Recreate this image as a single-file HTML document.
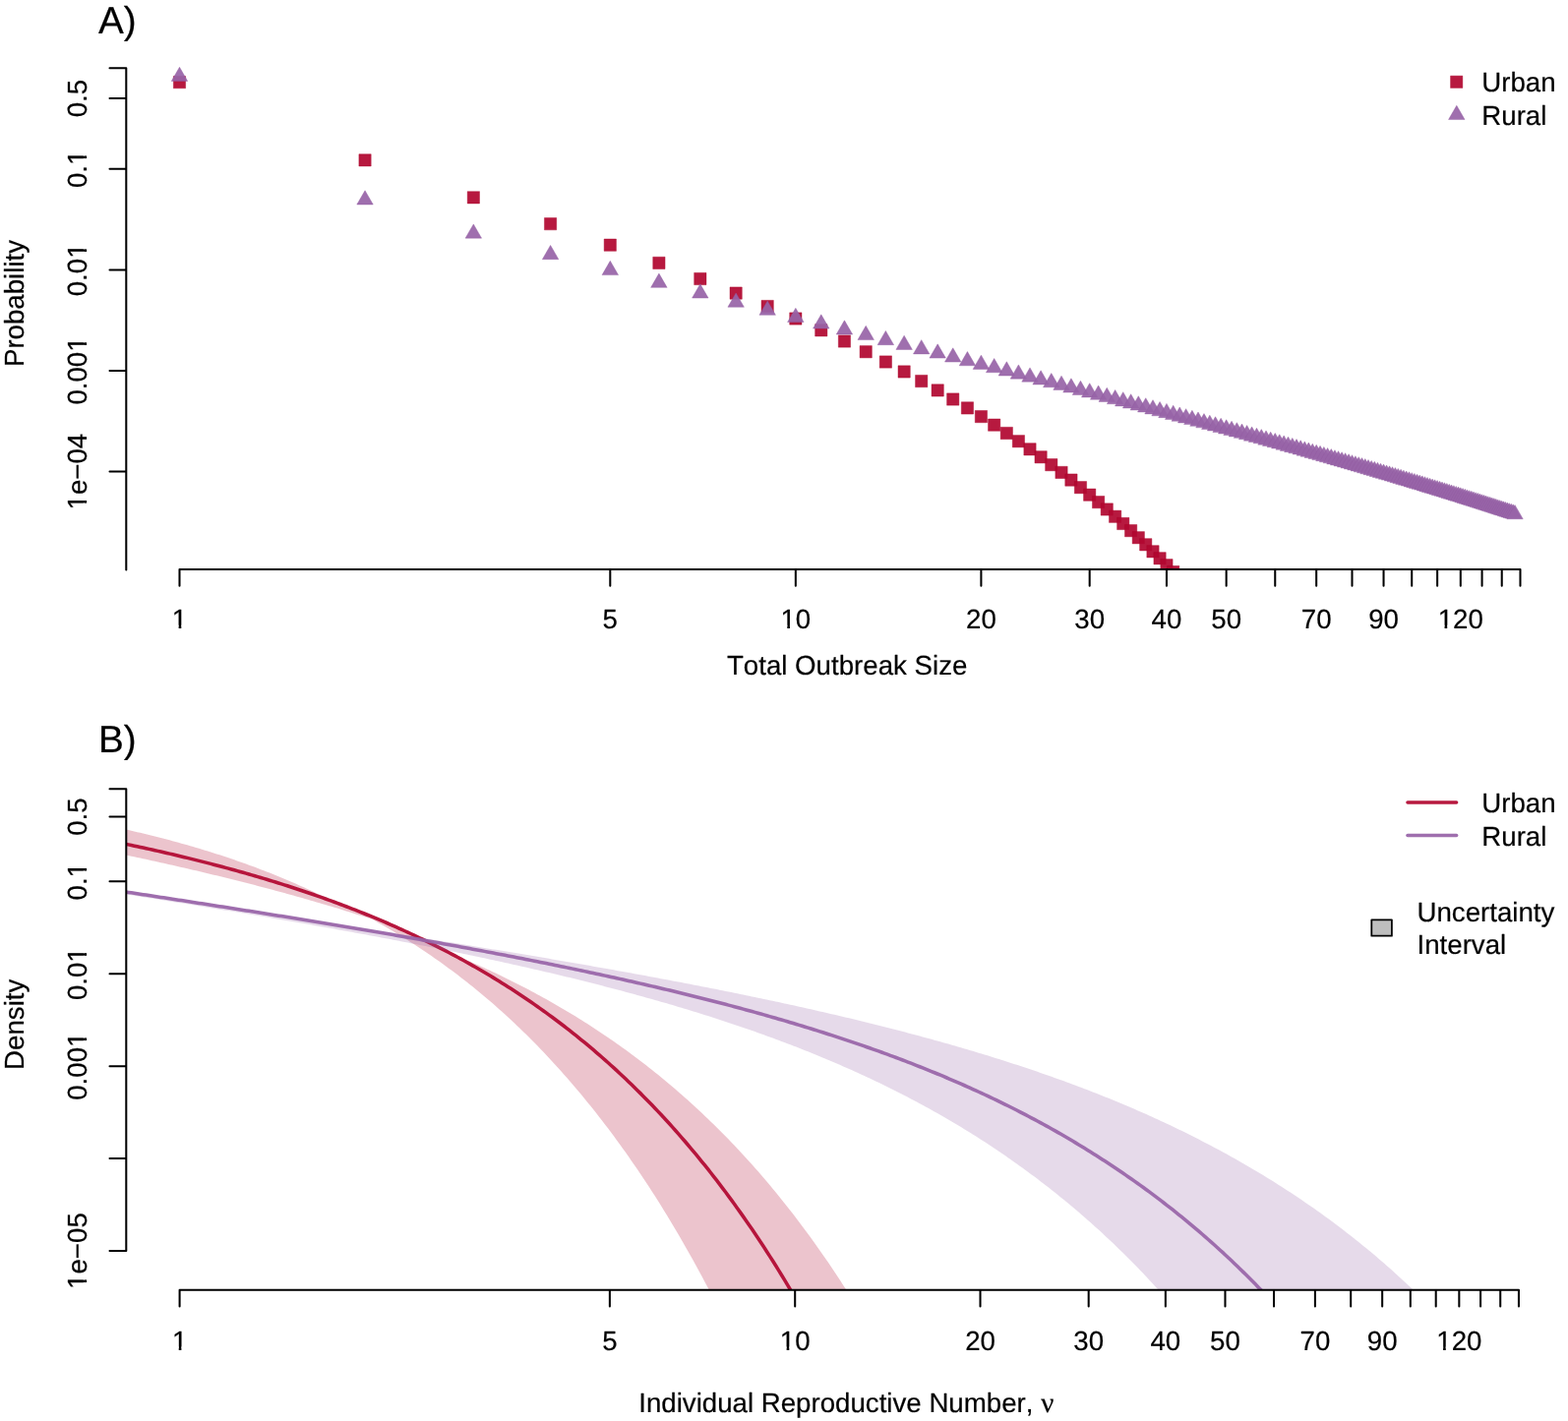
<!DOCTYPE html>
<html lang="en"><head><meta charset="utf-8"><title>Outbreak size and individual reproductive number</title>
<style>html,body{margin:0;padding:0;background:#fff}svg{display:block}</style></head>
<body>
<svg width="1594" height="1445" viewBox="0 0 1594 1445" font-family="'Liberation Sans', Arial, Helvetica, sans-serif" font-size="27.67px" fill="#000">
<style>text{font-kerning:none;text-rendering:geometricPrecision;stroke:#000;stroke-width:0.2px;stroke-linejoin:round}</style>
<rect width="1594" height="1445" fill="#fff"/>
<defs><clipPath id="ca"><rect x="128.3" y="38.0" width="1465.7" height="541.00"/></clipPath><clipPath id="cb"><rect x="128.3" y="772.0" width="1465.7" height="539.75"/></clipPath></defs>
<g clip-path="url(#ca)">
<g fill="#B10830" fill-opacity="0.93" stroke="#AA0027" stroke-opacity="0.45" stroke-width="0.9">
<path d="M176.35 77.51h12.30v12.30h-12.30z"/>
<path d="M364.90 156.71h12.30v12.30h-12.30z"/>
<path d="M475.19 194.67h12.30v12.30h-12.30z"/>
<path d="M553.45 221.54h12.30v12.30h-12.30z"/>
<path d="M614.15 243.01h12.30v12.30h-12.30z"/>
<path d="M663.75 261.26h12.30v12.30h-12.30z"/>
<path d="M705.68 277.37h12.30v12.30h-12.30z"/>
<path d="M742.00 291.94h12.30v12.30h-12.30z"/>
<path d="M774.04 305.36h12.30v12.30h-12.30z"/>
<path d="M802.70 317.87h12.30v12.30h-12.30z"/>
<path d="M828.63 329.66h12.30v12.30h-12.30z"/>
<path d="M852.30 340.87h12.30v12.30h-12.30z"/>
<path d="M874.07 351.58h12.30v12.30h-12.30z"/>
<path d="M894.23 361.86h12.30v12.30h-12.30z"/>
<path d="M912.99 371.80h12.30v12.30h-12.30z"/>
<path d="M930.55 381.41h12.30v12.30h-12.30z"/>
<path d="M947.04 390.76h12.30v12.30h-12.30z"/>
<path d="M962.59 399.86h12.30v12.30h-12.30z"/>
<path d="M977.30 408.75h12.30v12.30h-12.30z"/>
<path d="M991.25 417.45h12.30v12.30h-12.30z"/>
<path d="M1004.52 425.98h12.30v12.30h-12.30z"/>
<path d="M1017.18 434.35h12.30v12.30h-12.30z"/>
<path d="M1029.27 442.57h12.30v12.30h-12.30z"/>
<path d="M1040.85 450.67h12.30v12.30h-12.30z"/>
<path d="M1051.95 458.64h12.30v12.30h-12.30z"/>
<path d="M1062.62 466.51h12.30v12.30h-12.30z"/>
<path d="M1072.88 474.27h12.30v12.30h-12.30z"/>
<path d="M1082.78 481.94h12.30v12.30h-12.30z"/>
<path d="M1092.32 489.53h12.30v12.30h-12.30z"/>
<path d="M1101.54 497.03h12.30v12.30h-12.30z"/>
<path d="M1110.46 504.46h12.30v12.30h-12.30z"/>
<path d="M1119.10 511.81h12.30v12.30h-12.30z"/>
<path d="M1127.47 519.10h12.30v12.30h-12.30z"/>
<path d="M1135.59 526.32h12.30v12.30h-12.30z"/>
<path d="M1143.48 533.49h12.30v12.30h-12.30z"/>
<path d="M1151.14 540.60h12.30v12.30h-12.30z"/>
<path d="M1158.59 547.66h12.30v12.30h-12.30z"/>
<path d="M1165.85 554.67h12.30v12.30h-12.30z"/>
<path d="M1172.91 561.63h12.30v12.30h-12.30z"/>
<path d="M1179.80 568.55h12.30v12.30h-12.30z"/>
<path d="M1186.52 575.42h12.30v12.30h-12.30z"/>
</g>
<g fill="#9864A8" fill-opacity="0.93" stroke="#90589F" stroke-opacity="0.45" stroke-width="0.9">
<path d="M182.50 68.26L190.73 82.51L174.27 82.51z"/>
<path d="M371.05 193.78L379.28 208.03L362.82 208.03z"/>
<path d="M481.34 227.92L489.57 242.17L473.12 242.17z"/>
<path d="M559.60 249.42L567.83 263.67L551.37 263.67z"/>
<path d="M620.30 265.36L628.53 279.61L612.07 279.61z"/>
<path d="M669.90 278.12L678.12 292.37L661.67 292.37z"/>
<path d="M711.83 288.79L720.05 303.04L703.60 303.04z"/>
<path d="M748.15 297.98L756.38 312.23L739.92 312.23z"/>
<path d="M780.19 306.07L788.42 320.32L771.96 320.32z"/>
<path d="M808.85 313.30L817.08 327.55L800.62 327.55z"/>
<path d="M834.78 319.84L843.00 334.09L826.55 334.09z"/>
<path d="M858.45 325.82L866.67 340.07L850.22 340.07z"/>
<path d="M880.22 331.32L888.45 345.57L871.99 345.57z"/>
<path d="M900.38 336.42L908.60 350.67L892.15 350.67z"/>
<path d="M919.14 341.18L927.37 355.43L910.92 355.43z"/>
<path d="M936.70 345.64L944.93 359.89L928.47 359.89z"/>
<path d="M953.19 349.83L961.42 364.08L944.96 364.08z"/>
<path d="M968.74 353.80L976.97 368.05L960.51 368.05z"/>
<path d="M983.45 357.56L991.67 371.81L975.22 371.81z"/>
<path d="M997.40 361.13L1005.63 375.38L989.17 375.38z"/>
<path d="M1010.67 364.53L1018.90 378.78L1002.44 378.78z"/>
<path d="M1023.33 367.79L1031.55 382.04L1015.10 382.04z"/>
<path d="M1035.42 370.90L1043.65 385.15L1027.19 385.15z"/>
<path d="M1047.00 373.89L1055.22 388.14L1038.77 388.14z"/>
<path d="M1058.10 376.76L1066.33 391.01L1049.87 391.01z"/>
<path d="M1068.77 379.53L1077.00 393.78L1060.54 393.78z"/>
<path d="M1079.03 382.20L1087.26 396.45L1070.81 396.45z"/>
<path d="M1088.93 384.77L1097.15 399.02L1080.70 399.02z"/>
<path d="M1098.47 387.27L1106.70 401.52L1090.25 401.52z"/>
<path d="M1107.69 389.68L1115.92 403.93L1099.47 403.93z"/>
<path d="M1116.61 392.02L1124.84 406.27L1108.39 406.27z"/>
<path d="M1125.25 394.28L1133.48 408.53L1117.02 408.53z"/>
<path d="M1133.62 396.49L1141.85 410.74L1125.39 410.74z"/>
<path d="M1141.74 398.63L1149.97 412.88L1133.51 412.88z"/>
<path d="M1149.63 400.72L1157.85 414.97L1141.40 414.97z"/>
<path d="M1157.29 402.75L1165.52 417.00L1149.06 417.00z"/>
<path d="M1164.74 404.72L1172.97 418.97L1156.52 418.97z"/>
<path d="M1172.00 406.65L1180.22 420.90L1163.77 420.90z"/>
<path d="M1179.06 408.54L1187.29 422.79L1170.84 422.79z"/>
<path d="M1185.95 410.38L1194.18 424.63L1177.72 424.63z"/>
<path d="M1192.67 412.18L1200.89 426.43L1184.44 426.43z"/>
<path d="M1199.22 413.94L1207.45 428.19L1190.99 428.19z"/>
<path d="M1205.62 415.66L1213.85 429.91L1197.40 429.91z"/>
<path d="M1211.88 417.34L1220.10 431.59L1203.65 431.59z"/>
<path d="M1217.99 418.99L1226.22 433.24L1209.76 433.24z"/>
<path d="M1223.97 420.61L1232.20 434.86L1215.74 434.86z"/>
<path d="M1229.82 422.20L1238.05 436.45L1221.59 436.45z"/>
<path d="M1235.55 423.75L1243.77 438.00L1227.32 438.00z"/>
<path d="M1241.15 425.28L1249.38 439.53L1232.93 439.53z"/>
<path d="M1246.65 426.78L1254.88 441.03L1238.42 441.03z"/>
<path d="M1252.04 428.25L1260.26 442.50L1243.81 442.50z"/>
<path d="M1257.32 429.70L1265.55 443.95L1249.09 443.95z"/>
<path d="M1262.50 431.12L1270.73 445.37L1254.27 445.37z"/>
<path d="M1267.58 432.52L1275.81 446.77L1259.36 446.77z"/>
<path d="M1272.58 433.90L1280.80 448.15L1264.35 448.15z"/>
<path d="M1277.48 435.25L1285.70 449.50L1269.25 449.50z"/>
<path d="M1282.29 436.59L1290.52 450.84L1274.06 450.84z"/>
<path d="M1287.02 437.90L1295.25 452.15L1278.80 452.15z"/>
<path d="M1291.67 439.19L1299.90 453.44L1283.45 453.44z"/>
<path d="M1296.25 440.46L1304.47 454.71L1288.02 454.71z"/>
<path d="M1300.74 441.72L1308.97 455.97L1292.51 455.97z"/>
<path d="M1305.16 442.95L1313.39 457.20L1296.94 457.20z"/>
<path d="M1309.52 444.17L1317.74 458.42L1301.29 458.42z"/>
<path d="M1313.80 445.38L1322.03 459.63L1305.57 459.63z"/>
<path d="M1318.02 446.56L1326.25 460.81L1309.79 460.81z"/>
<path d="M1322.17 447.73L1330.40 461.98L1313.94 461.98z"/>
<path d="M1326.26 448.89L1334.49 463.14L1318.03 463.14z"/>
<path d="M1330.29 450.03L1338.52 464.28L1322.06 464.28z"/>
<path d="M1334.26 451.16L1342.49 465.41L1326.04 465.41z"/>
<path d="M1338.18 452.27L1346.40 466.52L1329.95 466.52z"/>
<path d="M1342.04 453.37L1350.26 467.62L1333.81 467.62z"/>
<path d="M1345.84 454.45L1354.07 468.70L1337.61 468.70z"/>
<path d="M1349.59 455.52L1357.82 469.77L1341.37 469.77z"/>
<path d="M1353.29 456.58L1361.52 470.83L1345.07 470.83z"/>
<path d="M1356.94 457.63L1365.17 471.88L1348.72 471.88z"/>
<path d="M1360.55 458.67L1368.77 472.92L1352.32 472.92z"/>
<path d="M1364.10 459.69L1372.33 473.94L1355.88 473.94z"/>
<path d="M1367.61 460.70L1375.84 474.95L1359.39 474.95z"/>
<path d="M1371.08 461.71L1379.31 475.96L1362.85 475.96z"/>
<path d="M1374.50 462.70L1382.73 476.95L1366.27 476.95z"/>
<path d="M1377.88 463.68L1386.11 477.93L1369.65 477.93z"/>
<path d="M1381.22 464.65L1389.44 478.90L1372.99 478.90z"/>
<path d="M1384.51 465.61L1392.74 479.86L1376.29 479.86z"/>
<path d="M1387.77 466.56L1396.00 480.81L1379.55 480.81z"/>
<path d="M1390.99 467.50L1399.22 481.75L1382.76 481.75z"/>
<path d="M1394.17 468.43L1402.40 482.68L1385.95 482.68z"/>
<path d="M1397.32 469.36L1405.55 483.61L1389.09 483.61z"/>
<path d="M1400.43 470.27L1408.65 484.52L1392.20 484.52z"/>
<path d="M1403.50 471.18L1411.73 485.43L1395.27 485.43z"/>
<path d="M1406.54 472.08L1414.77 486.33L1398.31 486.33z"/>
<path d="M1409.55 472.97L1417.77 487.22L1401.32 487.22z"/>
<path d="M1412.52 473.85L1420.75 488.10L1404.29 488.10z"/>
<path d="M1415.46 474.72L1423.69 488.97L1407.23 488.97z"/>
<path d="M1418.37 475.59L1426.60 489.84L1410.14 489.84z"/>
<path d="M1421.25 476.44L1429.47 490.69L1413.02 490.69z"/>
<path d="M1424.10 477.29L1432.32 491.54L1415.87 491.54z"/>
<path d="M1426.91 478.14L1435.14 492.39L1418.69 492.39z"/>
<path d="M1429.70 478.97L1437.93 493.22L1421.48 493.22z"/>
<path d="M1432.47 479.80L1440.69 494.05L1424.24 494.05z"/>
<path d="M1435.20 480.63L1443.43 494.88L1426.97 494.88z"/>
<path d="M1437.91 481.44L1446.13 495.69L1429.68 495.69z"/>
<path d="M1440.59 482.25L1448.81 496.50L1432.36 496.50z"/>
<path d="M1443.24 483.06L1451.47 497.31L1435.01 497.31z"/>
<path d="M1445.87 483.85L1454.10 498.10L1437.64 498.10z"/>
<path d="M1448.47 484.64L1456.70 498.89L1440.24 498.89z"/>
<path d="M1451.05 485.43L1459.28 499.68L1442.82 499.68z"/>
<path d="M1453.60 486.21L1461.83 500.46L1445.38 500.46z"/>
<path d="M1456.13 486.98L1464.36 501.23L1447.91 501.23z"/>
<path d="M1458.64 487.75L1466.87 502.00L1450.41 502.00z"/>
<path d="M1461.13 488.51L1469.35 502.76L1452.90 502.76z"/>
<path d="M1463.59 489.26L1471.82 503.51L1455.36 503.51z"/>
<path d="M1466.03 490.01L1474.25 504.26L1457.80 504.26z"/>
<path d="M1468.45 490.76L1476.67 505.01L1460.22 505.01z"/>
<path d="M1470.84 491.50L1479.07 505.75L1462.62 505.75z"/>
<path d="M1473.22 492.23L1481.45 506.48L1464.99 506.48z"/>
<path d="M1475.57 492.96L1483.80 507.21L1467.35 507.21z"/>
<path d="M1477.91 493.69L1486.14 507.94L1469.68 507.94z"/>
<path d="M1480.22 494.41L1488.45 508.66L1472.00 508.66z"/>
<path d="M1482.52 495.12L1490.75 509.37L1474.29 509.37z"/>
<path d="M1484.80 495.83L1493.02 510.08L1476.57 510.08z"/>
<path d="M1487.05 496.54L1495.28 510.79L1478.83 510.79z"/>
<path d="M1489.29 497.24L1497.52 511.49L1481.06 511.49z"/>
<path d="M1491.51 497.94L1499.74 512.19L1483.28 512.19z"/>
<path d="M1493.71 498.63L1501.94 512.88L1485.49 512.88z"/>
<path d="M1495.90 499.32L1504.13 513.57L1487.67 513.57z"/>
<path d="M1498.07 500.00L1506.29 514.25L1489.84 514.25z"/>
<path d="M1500.22 500.68L1508.44 514.93L1491.99 514.93z"/>
<path d="M1502.35 501.36L1510.58 515.61L1494.12 515.61z"/>
<path d="M1504.47 502.03L1512.70 516.28L1496.24 516.28z"/>
<path d="M1506.57 502.69L1514.80 516.94L1498.34 516.94z"/>
<path d="M1508.65 503.36L1516.88 517.61L1500.43 517.61z"/>
<path d="M1510.72 504.02L1518.95 518.27L1502.49 518.27z"/>
<path d="M1512.77 504.67L1521.00 518.92L1504.55 518.92z"/>
<path d="M1514.81 505.32L1523.04 519.57L1506.58 519.57z"/>
<path d="M1516.83 505.97L1525.06 520.22L1508.61 520.22z"/>
<path d="M1518.84 506.62L1527.07 520.87L1510.61 520.87z"/>
<path d="M1520.83 507.26L1529.06 521.51L1512.61 521.51z"/>
<path d="M1522.81 507.90L1531.04 522.15L1514.59 522.15z"/>
<path d="M1524.78 508.53L1533.00 522.78L1516.55 522.78z"/>
<path d="M1526.73 509.16L1534.95 523.41L1518.50 523.41z"/>
<path d="M1528.66 509.79L1536.89 524.04L1520.44 524.04z"/>
<path d="M1530.59 510.41L1538.81 524.66L1522.36 524.66z"/>
<path d="M1532.49 511.03L1540.72 525.28L1524.27 525.28z"/>
<path d="M1534.39 511.65L1542.62 525.90L1526.16 525.90z"/>
<path d="M1536.27 512.26L1544.50 526.51L1528.05 526.51z"/>
<path d="M1538.14 512.87L1546.37 527.12L1529.92 527.12z"/>
<path d="M1540.00 513.48L1548.23 527.73L1531.77 527.73z"/>
</g></g>
<g stroke="#000" stroke-width="2.04" fill="none" stroke-linecap="round">
<path d="M128.3 69.20V579.40M128.3 69.20h-16.8M128.3 100.09h-16.8M128.3 171.80h-16.8M128.3 274.40h-16.8M128.3 377.00h-16.8M128.3 479.60h-16.8"/>
<path d="M182.50 579.00H1545.49M182.50 579.00v16.8M620.30 579.00v16.8M808.85 579.00v16.8M997.40 579.00v16.8M1107.69 579.00v16.8M1185.95 579.00v16.8M1246.65 579.00v16.8M1296.25 579.00v16.8M1338.18 579.00v16.8M1374.50 579.00v16.8M1406.54 579.00v16.8M1435.20 579.00v16.8M1461.13 579.00v16.8M1484.80 579.00v16.8M1506.57 579.00v16.8M1526.73 579.00v16.8M1545.49 579.00v16.8"/>
</g>
<g transform="translate(182.50 638.80)"><text text-anchor="middle">1</text><g fill="#fff"><rect x="-6.86" y="-3.04" width="6.00" height="4.98"/><rect x="1.80" y="-3.04" width="6.00" height="4.98"/></g></g>
<g transform="translate(620.30 638.80)"><text text-anchor="middle">5</text></g>
<g transform="translate(808.85 638.80)"><text text-anchor="middle">10</text><g fill="#fff"><rect x="-14.55" y="-3.04" width="6.00" height="4.98"/><rect x="-5.89" y="-3.04" width="6.00" height="4.98"/></g></g>
<g transform="translate(997.40 638.80)"><text text-anchor="middle">20</text></g>
<g transform="translate(1107.69 638.80)"><text text-anchor="middle">30</text></g>
<g transform="translate(1185.95 638.80)"><text text-anchor="middle">40</text></g>
<g transform="translate(1246.65 638.80)"><text text-anchor="middle">50</text></g>
<g transform="translate(1338.18 638.80)"><text text-anchor="middle">70</text></g>
<g transform="translate(1406.54 638.80)"><text text-anchor="middle">90</text></g>
<g transform="translate(1484.80 638.80)"><text text-anchor="middle">120</text><g fill="#fff"><rect x="-22.25" y="-3.04" width="6.00" height="4.98"/><rect x="-13.59" y="-3.04" width="6.00" height="4.98"/></g></g>
<g transform="translate(87.80 100.09) rotate(-90)"><text text-anchor="middle">0.5</text></g>
<g transform="translate(87.80 171.80) rotate(-90)"><text text-anchor="middle">0.1</text><g fill="#fff"><rect x="4.68" y="-3.04" width="6.00" height="4.98"/><rect x="13.34" y="-3.04" width="6.00" height="4.98"/></g></g>
<g transform="translate(87.80 274.40) rotate(-90)"><text text-anchor="middle">0.01</text><g fill="#fff"><rect x="12.37" y="-3.04" width="6.00" height="4.98"/><rect x="21.03" y="-3.04" width="6.00" height="4.98"/></g></g>
<g transform="translate(87.80 377.00) rotate(-90)"><text text-anchor="middle">0.001</text><g fill="#fff"><rect x="20.06" y="-3.04" width="6.00" height="4.98"/><rect x="28.72" y="-3.04" width="6.00" height="4.98"/></g></g>
<g transform="translate(87.80 479.60) rotate(-90)"><text text-anchor="middle">1e−04</text><g fill="#fff"><rect x="-38.02" y="-3.04" width="6.00" height="4.98"/><rect x="-29.36" y="-3.04" width="6.00" height="4.98"/></g></g>
<text x="861.15" y="685.5" text-anchor="middle">Total Outbreak Size</text>
<text transform="translate(23.9 308.50) rotate(-90)" text-anchor="middle">Probability</text>
<path d="M1474.55 77.15h12.30v12.30h-12.30z" fill="#B10830" fill-opacity="0.93" stroke="#AA0027" stroke-opacity="0.45" stroke-width="0.9"/>
<path d="M1480.80 107.30L1489.03 121.55L1472.57 121.55z" fill="#9864A8" fill-opacity="0.93" stroke="#90589F" stroke-opacity="0.45" stroke-width="0.9"/>
<text x="1506.3" y="93.0">Urban</text><text x="1506.3" y="127.1">Rural</text>
<text x="100" y="33.9" font-size="38.74px">A)</text>
<g clip-path="url(#cb)">
<path d="M85.69 834.82L88.68 835.39L91.67 835.96L94.66 836.54L97.66 837.13L100.65 837.73L103.64 838.33L106.63 838.94L109.62 839.55L112.61 840.18L115.60 840.81L118.59 841.45L121.58 842.10L124.57 842.75L127.56 843.41L130.55 844.09L133.54 844.76L136.53 845.45L139.52 846.15L142.51 846.85L145.50 847.56L148.49 848.28L151.49 849.01L154.48 849.75L157.47 850.50L160.46 851.25L163.45 852.02L166.44 852.79L169.43 853.57L172.42 854.36L175.41 855.16L178.40 855.98L181.39 856.80L184.38 857.63L187.37 858.47L190.36 859.32L193.35 860.18L196.34 861.05L199.33 861.93L202.32 862.82L205.31 863.72L208.31 864.63L211.30 865.55L214.29 866.48L217.28 867.43L220.27 868.38L223.26 869.35L226.25 870.33L229.24 871.32L232.23 872.32L235.22 873.33L238.21 874.36L241.20 875.39L244.19 876.44L247.18 877.50L250.17 878.57L253.16 879.66L256.15 880.76L259.14 881.87L262.13 882.99L265.13 884.13L268.12 885.28L271.11 886.44L274.10 887.62L277.09 888.81L280.08 890.01L283.07 891.23L286.06 892.47L289.05 893.71L292.04 894.97L295.03 896.25L298.02 897.54L301.01 898.84L304.00 900.16L306.99 901.50L309.98 902.85L312.97 904.22L315.96 905.60L318.95 907.00L321.95 908.41L324.94 909.84L327.93 911.29L330.92 912.76L333.91 914.07L336.90 915.16L339.89 916.25L342.88 917.36L345.87 918.48L348.86 919.60L351.85 920.74L354.84 921.88L357.83 923.04L360.82 924.21L363.81 925.38L366.80 926.57L369.79 927.77L372.78 928.98L375.77 930.20L378.77 931.43L381.76 932.67L384.75 933.92L387.74 935.19L390.73 936.46L393.72 937.75L396.71 939.05L399.70 940.37L402.69 941.69L405.68 943.03L408.67 944.37L411.66 945.74L414.65 947.11L417.64 948.50L420.63 949.90L423.62 951.31L426.61 952.73L429.60 954.17L432.60 955.63L435.59 957.09L438.58 958.57L441.57 960.07L444.56 961.58L447.55 963.10L450.54 964.64L453.53 966.19L456.52 967.75L459.51 969.33L462.50 970.93L465.49 972.44L468.48 973.70L471.47 974.98L474.46 976.27L477.45 977.58L480.44 978.89L483.43 980.22L486.42 981.56L489.42 982.91L492.41 984.27L495.40 985.65L498.39 987.04L501.38 988.44L504.37 989.86L507.36 991.29L510.35 992.73L513.34 994.19L516.33 995.66L519.32 997.14L522.31 998.64L525.30 1000.15L528.29 1001.67L531.28 1003.21L534.27 1004.77L537.26 1006.34L540.25 1007.92L543.24 1009.52L546.24 1011.14L549.23 1012.77L552.22 1014.41L555.21 1016.07L558.20 1017.75L561.19 1019.45L564.18 1021.16L567.17 1022.88L570.16 1024.63L573.15 1026.39L576.14 1028.16L579.13 1029.96L582.12 1031.77L585.11 1033.60L588.10 1035.45L591.09 1037.31L594.08 1039.19L597.07 1041.10L600.06 1043.02L603.06 1044.96L606.05 1046.91L609.04 1048.89L612.03 1050.89L615.02 1052.90L618.01 1054.94L621.00 1057.00L623.99 1059.07L626.98 1061.17L629.97 1063.29L632.96 1065.43L635.95 1067.59L638.94 1069.77L641.93 1071.98L644.92 1074.20L647.91 1076.45L650.90 1078.72L653.89 1081.01L656.88 1083.33L659.88 1085.67L662.87 1088.03L665.86 1090.42L668.85 1092.83L671.84 1095.26L674.83 1097.72L677.82 1100.20L680.81 1102.71L683.80 1105.25L686.79 1107.81L689.78 1110.39L692.77 1113.00L695.76 1115.64L698.75 1118.31L701.74 1121.00L704.73 1123.72L707.72 1126.47L710.71 1129.24L713.71 1132.04L716.70 1134.88L719.69 1137.74L722.68 1140.63L725.67 1143.55L728.66 1146.50L731.65 1149.48L734.64 1152.49L737.63 1155.53L740.62 1158.60L743.61 1161.70L746.60 1164.84L749.59 1168.01L752.58 1171.21L755.57 1174.44L758.56 1177.71L761.55 1181.01L764.54 1184.34L767.53 1187.71L770.53 1191.12L773.52 1194.56L776.51 1198.03L779.50 1201.54L782.49 1205.09L785.48 1208.68L788.47 1212.30L791.46 1215.96L794.45 1219.65L797.44 1223.39L800.43 1227.16L803.42 1230.98L806.41 1234.83L809.40 1238.73L812.39 1242.66L815.38 1246.64L818.37 1250.65L821.36 1254.71L824.35 1258.82L827.35 1262.96L830.34 1267.15L833.33 1271.38L836.32 1275.66L839.31 1279.98L842.30 1284.35L845.29 1288.76L848.28 1293.22L851.27 1297.72L854.26 1302.28L857.25 1306.88L860.24 1311.53L863.23 1316.23L866.22 1320.98L869.21 1325.77L872.20 1330.62L875.19 1335.52L878.18 1340.48L881.17 1345.48L884.17 1350.54L887.16 1355.65L890.15 1360.82L893.14 1366.04L896.13 1371.31L899.12 1376.64L902.11 1382.03L905.10 1387.48L908.09 1391.75L911.08 1391.75L914.07 1391.75L917.06 1391.75L920.05 1391.75L923.04 1391.75L926.03 1391.75L929.02 1391.75L932.01 1391.75L935.00 1391.75L937.99 1391.75L940.99 1391.75L943.98 1391.75L946.97 1391.75L949.96 1391.75L952.95 1391.75L955.94 1391.75L958.93 1391.75L961.92 1391.75L964.91 1391.75L967.90 1391.75L970.89 1391.75L973.88 1391.75L976.87 1391.75L979.86 1391.75L982.85 1391.75L985.84 1391.75L988.83 1391.75L991.82 1391.75L994.82 1391.75L997.81 1391.75L1000.80 1391.75L1003.79 1391.75L1006.78 1391.75L1009.77 1391.75L1012.76 1391.75L1015.75 1391.75L1018.74 1391.75L1021.73 1391.75L1024.72 1391.75L1027.71 1391.75L1030.70 1391.75L1033.69 1391.75L1036.68 1391.75L1039.67 1391.75L1042.66 1391.75L1045.65 1391.75L1048.64 1391.75L1051.64 1391.75L1054.63 1391.75L1057.62 1391.75L1060.61 1391.75L1063.60 1391.75L1066.59 1391.75L1069.58 1391.75L1072.57 1391.75L1075.56 1391.75L1078.55 1391.75L1081.54 1391.75L1084.53 1391.75L1087.52 1391.75L1090.51 1391.75L1093.50 1391.75L1096.49 1391.75L1099.48 1391.75L1102.47 1391.75L1105.46 1391.75L1108.46 1391.75L1111.45 1391.75L1114.44 1391.75L1117.43 1391.75L1120.42 1391.75L1123.41 1391.75L1126.40 1391.75L1129.39 1391.75L1132.38 1391.75L1135.37 1391.75L1138.36 1391.75L1141.35 1391.75L1144.34 1391.75L1147.33 1391.75L1150.32 1391.75L1153.31 1391.75L1156.30 1391.75L1159.29 1391.75L1162.28 1391.75L1165.28 1391.75L1168.27 1391.75L1171.26 1391.75L1174.25 1391.75L1177.24 1391.75L1180.23 1391.75L1183.22 1391.75L1186.21 1391.75L1189.20 1391.75L1192.19 1391.75L1195.18 1391.75L1198.17 1391.75L1201.16 1391.75L1204.15 1391.75L1207.14 1391.75L1210.13 1391.75L1213.12 1391.75L1216.11 1391.75L1219.10 1391.75L1222.10 1391.75L1225.09 1391.75L1228.08 1391.75L1231.07 1391.75L1234.06 1391.75L1237.05 1391.75L1240.04 1391.75L1243.03 1391.75L1246.02 1391.75L1249.01 1391.75L1252.00 1391.75L1254.99 1391.75L1257.98 1391.75L1260.97 1391.75L1263.96 1391.75L1266.95 1391.75L1269.94 1391.75L1272.93 1391.75L1275.93 1391.75L1278.92 1391.75L1281.91 1391.75L1284.90 1391.75L1287.89 1391.75L1290.88 1391.75L1293.87 1391.75L1296.86 1391.75L1299.85 1391.75L1302.84 1391.75L1305.83 1391.75L1308.82 1391.75L1311.81 1391.75L1314.80 1391.75L1317.79 1391.75L1320.78 1391.75L1323.77 1391.75L1326.76 1391.75L1329.75 1391.75L1332.75 1391.75L1335.74 1391.75L1338.73 1391.75L1341.72 1391.75L1344.71 1391.75L1347.70 1391.75L1350.69 1391.75L1353.68 1391.75L1356.67 1391.75L1359.66 1391.75L1362.65 1391.75L1365.64 1391.75L1368.63 1391.75L1371.62 1391.75L1374.61 1391.75L1377.60 1391.75L1380.59 1391.75L1383.58 1391.75L1386.57 1391.75L1389.57 1391.75L1392.56 1391.75L1395.55 1391.75L1398.54 1391.75L1401.53 1391.75L1404.52 1391.75L1407.51 1391.75L1410.50 1391.75L1413.49 1391.75L1416.48 1391.75L1419.47 1391.75L1422.46 1391.75L1425.45 1391.75L1428.44 1391.75L1431.43 1391.75L1434.42 1391.75L1437.41 1391.75L1440.40 1391.75L1443.39 1391.75L1446.39 1391.75L1449.38 1391.75L1452.37 1391.75L1455.36 1391.75L1458.35 1391.75L1461.34 1391.75L1464.33 1391.75L1467.32 1391.75L1470.31 1391.75L1473.30 1391.75L1476.29 1391.75L1479.28 1391.75L1482.27 1391.75L1485.26 1391.75L1488.25 1391.75L1491.24 1391.75L1494.23 1391.75L1497.22 1391.75L1500.22 1391.75L1503.21 1391.75L1506.20 1391.75L1509.19 1391.75L1512.18 1391.75L1515.17 1391.75L1518.16 1391.75L1521.15 1391.75L1524.14 1391.75L1527.13 1391.75L1530.12 1391.75L1533.11 1391.75L1536.10 1391.75L1539.09 1391.75L1542.08 1391.75L1545.07 1391.75L1548.06 1391.75L1551.05 1391.75L1554.04 1391.75L1557.04 1391.75L1560.03 1391.75L1563.02 1391.75L1566.01 1391.75L1569.00 1391.75L1571.99 1391.75L1574.98 1391.75L1577.97 1391.75L1577.97 1391.75L1574.98 1391.75L1571.99 1391.75L1569.00 1391.75L1566.01 1391.75L1563.02 1391.75L1560.03 1391.75L1557.04 1391.75L1554.04 1391.75L1551.05 1391.75L1548.06 1391.75L1545.07 1391.75L1542.08 1391.75L1539.09 1391.75L1536.10 1391.75L1533.11 1391.75L1530.12 1391.75L1527.13 1391.75L1524.14 1391.75L1521.15 1391.75L1518.16 1391.75L1515.17 1391.75L1512.18 1391.75L1509.19 1391.75L1506.20 1391.75L1503.21 1391.75L1500.22 1391.75L1497.22 1391.75L1494.23 1391.75L1491.24 1391.75L1488.25 1391.75L1485.26 1391.75L1482.27 1391.75L1479.28 1391.75L1476.29 1391.75L1473.30 1391.75L1470.31 1391.75L1467.32 1391.75L1464.33 1391.75L1461.34 1391.75L1458.35 1391.75L1455.36 1391.75L1452.37 1391.75L1449.38 1391.75L1446.39 1391.75L1443.39 1391.75L1440.40 1391.75L1437.41 1391.75L1434.42 1391.75L1431.43 1391.75L1428.44 1391.75L1425.45 1391.75L1422.46 1391.75L1419.47 1391.75L1416.48 1391.75L1413.49 1391.75L1410.50 1391.75L1407.51 1391.75L1404.52 1391.75L1401.53 1391.75L1398.54 1391.75L1395.55 1391.75L1392.56 1391.75L1389.57 1391.75L1386.57 1391.75L1383.58 1391.75L1380.59 1391.75L1377.60 1391.75L1374.61 1391.75L1371.62 1391.75L1368.63 1391.75L1365.64 1391.75L1362.65 1391.75L1359.66 1391.75L1356.67 1391.75L1353.68 1391.75L1350.69 1391.75L1347.70 1391.75L1344.71 1391.75L1341.72 1391.75L1338.73 1391.75L1335.74 1391.75L1332.75 1391.75L1329.75 1391.75L1326.76 1391.75L1323.77 1391.75L1320.78 1391.75L1317.79 1391.75L1314.80 1391.75L1311.81 1391.75L1308.82 1391.75L1305.83 1391.75L1302.84 1391.75L1299.85 1391.75L1296.86 1391.75L1293.87 1391.75L1290.88 1391.75L1287.89 1391.75L1284.90 1391.75L1281.91 1391.75L1278.92 1391.75L1275.93 1391.75L1272.93 1391.75L1269.94 1391.75L1266.95 1391.75L1263.96 1391.75L1260.97 1391.75L1257.98 1391.75L1254.99 1391.75L1252.00 1391.75L1249.01 1391.75L1246.02 1391.75L1243.03 1391.75L1240.04 1391.75L1237.05 1391.75L1234.06 1391.75L1231.07 1391.75L1228.08 1391.75L1225.09 1391.75L1222.10 1391.75L1219.10 1391.75L1216.11 1391.75L1213.12 1391.75L1210.13 1391.75L1207.14 1391.75L1204.15 1391.75L1201.16 1391.75L1198.17 1391.75L1195.18 1391.75L1192.19 1391.75L1189.20 1391.75L1186.21 1391.75L1183.22 1391.75L1180.23 1391.75L1177.24 1391.75L1174.25 1391.75L1171.26 1391.75L1168.27 1391.75L1165.28 1391.75L1162.28 1391.75L1159.29 1391.75L1156.30 1391.75L1153.31 1391.75L1150.32 1391.75L1147.33 1391.75L1144.34 1391.75L1141.35 1391.75L1138.36 1391.75L1135.37 1391.75L1132.38 1391.75L1129.39 1391.75L1126.40 1391.75L1123.41 1391.75L1120.42 1391.75L1117.43 1391.75L1114.44 1391.75L1111.45 1391.75L1108.46 1391.75L1105.46 1391.75L1102.47 1391.75L1099.48 1391.75L1096.49 1391.75L1093.50 1391.75L1090.51 1391.75L1087.52 1391.75L1084.53 1391.75L1081.54 1391.75L1078.55 1391.75L1075.56 1391.75L1072.57 1391.75L1069.58 1391.75L1066.59 1391.75L1063.60 1391.75L1060.61 1391.75L1057.62 1391.75L1054.63 1391.75L1051.64 1391.75L1048.64 1391.75L1045.65 1391.75L1042.66 1391.75L1039.67 1391.75L1036.68 1391.75L1033.69 1391.75L1030.70 1391.75L1027.71 1391.75L1024.72 1391.75L1021.73 1391.75L1018.74 1391.75L1015.75 1391.75L1012.76 1391.75L1009.77 1391.75L1006.78 1391.75L1003.79 1391.75L1000.80 1391.75L997.81 1391.75L994.82 1391.75L991.82 1391.75L988.83 1391.75L985.84 1391.75L982.85 1391.75L979.86 1391.75L976.87 1391.75L973.88 1391.75L970.89 1391.75L967.90 1391.75L964.91 1391.75L961.92 1391.75L958.93 1391.75L955.94 1391.75L952.95 1391.75L949.96 1391.75L946.97 1391.75L943.98 1391.75L940.99 1391.75L937.99 1391.75L935.00 1391.75L932.01 1391.75L929.02 1391.75L926.03 1391.75L923.04 1391.75L920.05 1391.75L917.06 1391.75L914.07 1391.75L911.08 1391.75L908.09 1391.75L905.10 1391.75L902.11 1391.75L899.12 1391.75L896.13 1391.75L893.14 1391.75L890.15 1391.75L887.16 1391.75L884.17 1391.75L881.17 1391.75L878.18 1391.75L875.19 1391.75L872.20 1391.75L869.21 1391.75L866.22 1391.75L863.23 1391.75L860.24 1391.75L857.25 1391.75L854.26 1391.75L851.27 1391.75L848.28 1391.75L845.29 1391.75L842.30 1391.75L839.31 1391.75L836.32 1391.75L833.33 1391.75L830.34 1391.75L827.35 1391.75L824.35 1391.75L821.36 1391.75L818.37 1391.75L815.38 1391.75L812.39 1391.75L809.40 1391.75L806.41 1391.75L803.42 1391.75L800.43 1391.75L797.44 1391.75L794.45 1391.75L791.46 1391.75L788.47 1391.75L785.48 1391.75L782.49 1391.75L779.50 1391.75L776.51 1391.75L773.52 1391.75L770.53 1391.75L767.53 1391.75L764.54 1391.75L761.55 1391.75L758.56 1389.70L755.57 1383.01L752.58 1376.39L749.59 1369.84L746.60 1363.45L743.61 1357.20L740.62 1351.01L737.63 1344.90L734.64 1338.85L731.65 1332.87L728.66 1326.95L725.67 1321.09L722.68 1315.30L719.69 1309.57L716.70 1303.90L713.71 1298.30L710.71 1292.75L707.72 1287.27L704.73 1281.84L701.74 1276.47L698.75 1271.16L695.76 1265.91L692.77 1260.71L689.78 1255.57L686.79 1250.48L683.80 1245.45L680.81 1240.47L677.82 1235.55L674.83 1230.68L671.84 1225.86L668.85 1221.09L665.86 1216.37L662.87 1211.70L659.88 1207.08L656.88 1202.52L653.89 1198.00L650.90 1193.52L647.91 1189.10L644.92 1184.72L641.93 1180.39L638.94 1176.10L635.95 1171.86L632.96 1167.67L629.97 1163.52L626.98 1159.41L623.99 1155.35L621.00 1151.32L618.01 1147.34L615.02 1143.41L612.03 1139.51L609.04 1135.66L606.05 1131.84L603.06 1128.07L600.06 1124.33L597.07 1120.63L594.08 1116.97L591.09 1113.35L588.10 1109.77L585.11 1106.23L582.12 1102.72L579.13 1099.24L576.14 1095.81L573.15 1092.41L570.16 1089.04L567.17 1085.71L564.18 1082.41L561.19 1079.15L558.20 1075.92L555.21 1072.72L552.22 1069.56L549.23 1066.44L546.24 1063.35L543.24 1060.29L540.25 1057.27L537.26 1054.28L534.27 1051.32L531.28 1048.40L528.29 1045.51L525.30 1042.65L522.31 1039.82L519.32 1037.02L516.33 1034.25L513.34 1031.52L510.35 1028.81L507.36 1026.13L504.37 1023.49L501.38 1020.87L498.39 1018.28L495.40 1015.72L492.41 1013.18L489.42 1010.68L486.42 1008.20L483.43 1005.75L480.44 1003.33L477.45 1000.93L474.46 998.56L471.47 996.22L468.48 993.90L465.49 991.61L462.50 989.34L459.51 987.10L456.52 984.88L453.53 982.69L450.54 980.52L447.55 978.37L444.56 976.25L441.57 974.15L438.58 972.08L435.59 970.02L432.60 967.99L429.60 965.99L426.61 964.00L423.62 962.04L420.63 960.10L417.64 958.18L414.65 956.28L411.66 954.40L408.67 952.54L405.68 950.70L402.69 948.89L399.70 947.09L396.71 945.31L393.72 943.55L390.73 941.82L387.74 940.10L384.75 938.40L381.76 936.72L378.77 935.05L375.77 933.99L372.78 933.01L369.79 932.05L366.80 931.09L363.81 930.13L360.82 929.19L357.83 928.24L354.84 927.31L351.85 926.38L348.86 925.45L345.87 924.54L342.88 923.62L339.89 922.72L336.90 921.81L333.91 920.92L330.92 920.03L327.93 919.14L324.94 918.26L321.95 917.39L318.95 916.52L315.96 915.65L312.97 914.79L309.98 913.94L306.99 913.09L304.00 912.24L301.01 911.40L298.02 910.56L295.03 909.73L292.04 908.91L289.05 908.09L286.06 907.27L283.07 906.46L280.08 905.65L277.09 904.85L274.10 904.05L271.11 903.25L268.12 902.46L265.13 901.67L262.13 900.89L259.14 900.11L256.15 899.34L253.16 898.57L250.17 897.80L247.18 897.04L244.19 896.28L241.20 895.53L238.21 894.78L235.22 894.03L232.23 893.29L229.24 892.55L226.25 891.82L223.26 891.08L220.27 890.36L217.28 889.63L214.29 888.91L211.30 888.19L208.31 887.48L205.31 886.77L202.32 886.06L199.33 885.35L196.34 884.65L193.35 883.96L190.36 883.26L187.37 882.57L184.38 881.88L181.39 881.20L178.40 880.51L175.41 879.84L172.42 879.16L169.43 878.49L166.44 877.82L163.45 877.15L160.46 876.49L157.47 875.82L154.48 875.17L151.49 874.51L148.49 873.86L145.50 873.21L142.51 872.56L139.52 871.91L136.53 871.27L133.54 870.63L130.55 869.99L127.56 869.36L124.57 868.73L121.58 868.10L118.59 867.47L115.60 866.84L112.61 866.22L109.62 865.60L106.63 864.98L103.64 864.37L100.65 863.76L97.66 863.15L94.66 862.54L91.67 861.93L88.68 861.33L85.69 860.73z" fill="#B10830" fill-opacity="0.24"/>
<path d="M85.69 849.95L88.68 850.52L91.67 851.09L94.66 851.67L97.66 852.24L100.65 852.83L103.64 853.41L106.63 854.00L109.62 854.60L112.61 855.20L115.60 855.80L118.59 856.41L121.58 857.02L124.57 857.64L127.56 858.26L130.55 858.88L133.54 859.51L136.53 860.14L139.52 860.78L142.51 861.43L145.50 862.07L148.49 862.73L151.49 863.38L154.48 864.05L157.47 864.71L160.46 865.39L163.45 866.06L166.44 866.74L169.43 867.43L172.42 868.12L175.41 868.82L178.40 869.53L181.39 870.23L184.38 870.95L187.37 871.67L190.36 872.39L193.35 873.12L196.34 873.86L199.33 874.60L202.32 875.35L205.31 876.10L208.31 876.86L211.30 877.63L214.29 878.40L217.28 879.18L220.27 879.96L223.26 880.75L226.25 881.55L229.24 882.35L232.23 883.16L235.22 883.97L238.21 884.79L241.20 885.62L244.19 886.46L247.18 887.30L250.17 888.15L253.16 889.01L256.15 889.87L259.14 890.74L262.13 891.62L265.13 892.50L268.12 893.40L271.11 894.30L274.10 895.20L277.09 896.12L280.08 897.04L283.07 897.97L286.06 898.91L289.05 899.86L292.04 900.81L295.03 901.77L298.02 902.75L301.01 903.72L304.00 904.71L306.99 905.71L309.98 906.71L312.97 907.73L315.96 908.75L318.95 909.78L321.95 910.82L324.94 911.87L327.93 912.93L330.92 913.99L333.91 915.07L336.90 916.16L339.89 917.25L342.88 918.36L345.87 919.48L348.86 920.60L351.85 921.74L354.84 922.88L357.83 924.04L360.82 925.21L363.81 926.38L366.80 927.57L369.79 928.77L372.78 929.98L375.77 931.20L378.77 932.43L381.76 933.67L384.75 934.92L387.74 936.19L390.73 937.46L393.72 938.75L396.71 940.05L399.70 941.37L402.69 942.69L405.68 944.03L408.67 945.37L411.66 946.74L414.65 948.11L417.64 949.50L420.63 950.90L423.62 952.31L426.61 953.73L429.60 955.17L432.60 956.63L435.59 958.09L438.58 959.57L441.57 961.07L444.56 962.58L447.55 964.10L450.54 965.64L453.53 967.19L456.52 968.75L459.51 970.33L462.50 971.93L465.49 973.54L468.48 975.17L471.47 976.81L474.46 978.47L477.45 980.14L480.44 981.84L483.43 983.54L486.42 985.27L489.42 987.00L492.41 988.76L495.40 990.54L498.39 992.33L501.38 994.13L504.37 995.96L507.36 997.80L510.35 999.67L513.34 1001.54L516.33 1003.44L519.32 1005.36L522.31 1007.30L525.30 1009.25L528.29 1011.22L531.28 1013.22L534.27 1015.23L537.26 1017.26L540.25 1019.31L543.24 1021.39L546.24 1023.48L549.23 1025.60L552.22 1027.73L555.21 1029.89L558.20 1032.07L561.19 1034.26L564.18 1036.49L567.17 1038.73L570.16 1041.00L573.15 1043.28L576.14 1045.60L579.13 1047.93L582.12 1050.29L585.11 1052.67L588.10 1055.08L591.09 1057.51L594.08 1059.96L597.07 1062.44L600.06 1064.94L603.06 1067.47L606.05 1070.03L609.04 1072.61L612.03 1075.22L615.02 1077.85L618.01 1080.51L621.00 1083.20L623.99 1085.91L626.98 1088.66L629.97 1091.43L632.96 1094.22L635.95 1097.05L638.94 1099.91L641.93 1102.79L644.92 1105.71L647.91 1108.65L650.90 1111.63L653.89 1114.63L656.88 1117.66L659.88 1120.73L662.87 1123.82L665.86 1126.95L668.85 1130.11L671.84 1133.30L674.83 1136.52L677.82 1139.78L680.81 1143.06L683.80 1146.38L686.79 1149.74L689.78 1153.13L692.77 1156.55L695.76 1160.01L698.75 1163.50L701.74 1167.03L704.73 1170.59L707.72 1174.19L710.71 1177.83L713.71 1181.51L716.70 1185.22L719.69 1188.97L722.68 1192.76L725.67 1196.59L728.66 1200.46L731.65 1204.36L734.64 1208.31L737.63 1212.30L740.62 1216.33L743.61 1220.40L746.60 1224.51L749.59 1228.67L752.58 1232.87L755.57 1237.11L758.56 1241.40L761.55 1245.73L764.54 1250.10L767.53 1254.53L770.53 1258.99L773.52 1263.51L776.51 1268.07L779.50 1272.68L782.49 1277.34L785.48 1282.04L788.47 1286.80L791.46 1291.60L794.45 1296.46L797.44 1301.37L800.43 1306.32L803.42 1311.33L806.41 1316.40L809.40 1321.51L812.39 1326.68L815.38 1331.91L818.37 1337.19L821.36 1342.52L824.35 1347.91L827.35 1353.36L830.34 1358.88L833.33 1364.49L836.32 1370.16L839.31 1375.89L842.30 1381.68L845.29 1387.54" fill="none" stroke="#B10830" stroke-opacity="0.93" stroke-width="3.55" stroke-linejoin="round"/>
<path d="M85.69 899.46L88.68 899.90L91.67 900.35L94.66 900.80L97.66 901.24L100.65 901.69L103.64 902.14L106.63 902.59L109.62 903.04L112.61 903.49L115.60 903.94L118.59 904.39L121.58 904.84L124.57 905.29L127.56 905.74L130.55 906.19L133.54 906.64L136.53 907.10L139.52 907.55L142.51 908.00L145.50 908.46L148.49 908.91L151.49 909.37L154.48 909.82L157.47 910.28L160.46 910.73L163.45 911.19L166.44 911.65L169.43 912.11L172.42 912.56L175.41 913.02L178.40 913.48L181.39 913.94L184.38 914.40L187.37 914.86L190.36 915.33L193.35 915.79L196.34 916.25L199.33 916.71L202.32 917.18L205.31 917.64L208.31 918.11L211.30 918.57L214.29 919.04L217.28 919.51L220.27 919.97L223.26 920.44L226.25 920.91L229.24 921.38L232.23 921.85L235.22 922.32L238.21 922.79L241.20 923.26L244.19 923.73L247.18 924.21L250.17 924.68L253.16 925.16L256.15 925.63L259.14 926.11L262.13 926.58L265.13 927.06L268.12 927.54L271.11 928.02L274.10 928.50L277.09 928.98L280.08 929.46L283.07 929.94L286.06 930.42L289.05 930.91L292.04 931.39L295.03 931.88L298.02 932.36L301.01 932.85L304.00 933.33L306.99 933.82L309.98 934.31L312.97 934.80L315.96 935.29L318.95 935.78L321.95 936.28L324.94 936.77L327.93 937.26L330.92 937.76L333.91 938.26L336.90 938.75L339.89 939.25L342.88 939.75L345.87 940.25L348.86 940.75L351.85 941.25L354.84 941.75L357.83 942.26L360.82 942.76L363.81 943.27L366.80 943.78L369.79 944.28L372.78 944.79L375.77 945.30L378.77 945.81L381.76 946.33L384.75 946.82L387.74 947.28L390.73 947.75L393.72 948.21L396.71 948.67L399.70 949.14L402.69 949.61L405.68 950.07L408.67 950.54L411.66 951.01L414.65 951.48L417.64 951.95L420.63 952.42L423.62 952.89L426.61 953.36L429.60 953.83L432.60 954.30L435.59 954.78L438.58 955.25L441.57 955.72L444.56 956.20L447.55 956.68L450.54 957.15L453.53 957.63L456.52 958.11L459.51 958.59L462.50 959.07L465.49 959.55L468.48 960.03L471.47 960.51L474.46 960.99L477.45 961.48L480.44 961.96L483.43 962.45L486.42 962.93L489.42 963.42L492.41 963.91L495.40 964.40L498.39 964.89L501.38 965.38L504.37 965.87L507.36 966.36L510.35 966.85L513.34 967.35L516.33 967.84L519.32 968.34L522.31 968.84L525.30 969.33L528.29 969.83L531.28 970.33L534.27 970.83L537.26 971.33L540.25 971.84L543.24 972.34L546.24 972.84L549.23 973.35L552.22 973.86L555.21 974.37L558.20 974.87L561.19 975.38L564.18 975.90L567.17 976.41L570.16 976.92L573.15 977.44L576.14 977.95L579.13 978.47L582.12 978.99L585.11 979.50L588.10 980.03L591.09 980.55L594.08 981.07L597.07 981.59L600.06 982.12L603.06 982.65L606.05 983.17L609.04 983.70L612.03 984.23L615.02 984.76L618.01 985.30L621.00 985.83L623.99 986.37L626.98 986.91L629.97 987.44L632.96 987.98L635.95 988.53L638.94 989.07L641.93 989.61L644.92 990.16L647.91 990.71L650.90 991.26L653.89 991.81L656.88 992.36L659.88 992.91L662.87 993.47L665.86 994.02L668.85 994.58L671.84 995.14L674.83 995.70L677.82 996.27L680.81 996.83L683.80 997.40L686.79 997.97L689.78 998.54L692.77 999.11L695.76 999.68L698.75 1000.26L701.74 1000.83L704.73 1001.41L707.72 1002.00L710.71 1002.58L713.71 1003.16L716.70 1003.75L719.69 1004.34L722.68 1004.93L725.67 1005.52L728.66 1006.12L731.65 1006.71L734.64 1007.31L737.63 1007.91L740.62 1008.52L743.61 1009.12L746.60 1009.73L749.59 1010.34L752.58 1010.95L755.57 1011.56L758.56 1012.18L761.55 1012.80L764.54 1013.42L767.53 1014.04L770.53 1014.67L773.52 1015.29L776.51 1015.92L779.50 1016.56L782.49 1017.19L785.48 1017.83L788.47 1018.47L791.46 1019.11L794.45 1019.76L797.44 1020.40L800.43 1021.05L803.42 1021.71L806.41 1022.36L809.40 1023.02L812.39 1023.68L815.38 1024.35L818.37 1025.01L821.36 1025.68L824.35 1026.36L827.35 1027.03L830.34 1027.71L833.33 1028.39L836.32 1029.07L839.31 1029.76L842.30 1030.45L845.29 1031.15L848.28 1031.84L851.27 1032.54L854.26 1033.24L857.25 1033.95L860.24 1034.66L863.23 1035.37L866.22 1036.09L869.21 1036.81L872.20 1037.53L875.19 1038.26L878.18 1038.99L881.17 1039.72L884.17 1040.46L887.16 1041.20L890.15 1041.94L893.14 1042.69L896.13 1043.44L899.12 1044.20L902.11 1044.95L905.10 1045.72L908.09 1046.48L911.08 1047.25L914.07 1048.03L917.06 1048.81L920.05 1049.59L923.04 1050.38L926.03 1051.17L929.02 1051.96L932.01 1052.76L935.00 1053.57L937.99 1054.38L940.99 1055.19L943.98 1056.01L946.97 1056.83L949.96 1057.65L952.95 1058.48L955.94 1059.32L958.93 1060.16L961.92 1061.01L964.91 1061.85L967.90 1062.71L970.89 1063.57L973.88 1064.43L976.87 1065.30L979.86 1066.18L982.85 1067.06L985.84 1067.94L988.83 1068.83L991.82 1069.73L994.82 1070.63L997.81 1071.53L1000.80 1072.45L1003.79 1073.36L1006.78 1074.29L1009.77 1075.21L1012.76 1076.15L1015.75 1077.09L1018.74 1078.03L1021.73 1078.99L1024.72 1079.94L1027.71 1080.91L1030.70 1081.88L1033.69 1082.85L1036.68 1083.84L1039.67 1084.82L1042.66 1085.82L1045.65 1086.82L1048.64 1087.83L1051.64 1088.84L1054.63 1089.87L1057.62 1090.89L1060.61 1091.93L1063.60 1092.97L1066.59 1094.02L1069.58 1095.08L1072.57 1096.14L1075.56 1097.21L1078.55 1098.29L1081.54 1099.37L1084.53 1100.46L1087.52 1101.56L1090.51 1102.67L1093.50 1103.79L1096.49 1104.91L1099.48 1106.04L1102.47 1107.18L1105.46 1108.33L1108.46 1109.48L1111.45 1110.65L1114.44 1111.82L1117.43 1113.00L1120.42 1114.19L1123.41 1115.39L1126.40 1116.59L1129.39 1117.81L1132.38 1119.03L1135.37 1120.26L1138.36 1121.50L1141.35 1122.76L1144.34 1124.02L1147.33 1125.29L1150.32 1126.57L1153.31 1127.85L1156.30 1129.15L1159.29 1130.46L1162.28 1131.78L1165.28 1133.11L1168.27 1134.45L1171.26 1135.80L1174.25 1137.15L1177.24 1138.52L1180.23 1139.91L1183.22 1141.30L1186.21 1142.70L1189.20 1144.11L1192.19 1145.54L1195.18 1146.97L1198.17 1148.42L1201.16 1149.87L1204.15 1151.34L1207.14 1152.82L1210.13 1154.31L1213.12 1155.82L1216.11 1157.33L1219.10 1158.85L1222.10 1160.39L1225.09 1161.94L1228.08 1163.50L1231.07 1165.07L1234.06 1166.66L1237.05 1168.25L1240.04 1169.86L1243.03 1171.48L1246.02 1173.12L1249.01 1174.76L1252.00 1176.42L1254.99 1178.10L1257.98 1179.78L1260.97 1181.48L1263.96 1183.20L1266.95 1184.92L1269.94 1186.66L1272.93 1188.42L1275.93 1190.19L1278.92 1191.97L1281.91 1193.77L1284.90 1195.59L1287.89 1197.42L1290.88 1199.26L1293.87 1201.12L1296.86 1202.99L1299.85 1204.88L1302.84 1206.79L1305.83 1208.71L1308.82 1210.65L1311.81 1212.60L1314.80 1214.58L1317.79 1216.56L1320.78 1218.57L1323.77 1220.59L1326.76 1222.63L1329.75 1224.69L1332.75 1226.76L1335.74 1228.86L1338.73 1230.97L1341.72 1233.10L1344.71 1235.25L1347.70 1237.42L1350.69 1239.60L1353.68 1241.81L1356.67 1244.03L1359.66 1246.28L1362.65 1248.54L1365.64 1250.83L1368.63 1253.13L1371.62 1255.46L1374.61 1257.81L1377.60 1260.18L1380.59 1262.57L1383.58 1264.98L1386.57 1267.41L1389.57 1269.87L1392.56 1272.34L1395.55 1274.84L1398.54 1277.37L1401.53 1279.91L1404.52 1282.48L1407.51 1285.08L1410.50 1287.69L1413.49 1290.34L1416.48 1293.00L1419.47 1295.69L1422.46 1298.41L1425.45 1301.15L1428.44 1303.92L1431.43 1306.71L1434.42 1309.53L1437.41 1312.39L1440.40 1315.33L1443.39 1318.30L1446.39 1321.29L1449.38 1324.31L1452.37 1327.36L1455.36 1330.44L1458.35 1333.55L1461.34 1336.69L1464.33 1339.86L1467.32 1343.06L1470.31 1346.29L1473.30 1349.55L1476.29 1352.85L1479.28 1356.17L1482.27 1359.53L1485.26 1362.92L1488.25 1366.35L1491.24 1369.80L1494.23 1373.29L1497.22 1376.82L1500.22 1380.38L1503.21 1383.97L1506.20 1387.60L1509.19 1391.27L1512.18 1391.75L1515.17 1391.75L1518.16 1391.75L1521.15 1391.75L1524.14 1391.75L1527.13 1391.75L1530.12 1391.75L1533.11 1391.75L1536.10 1391.75L1539.09 1391.75L1542.08 1391.75L1545.07 1391.75L1548.06 1391.75L1551.05 1391.75L1554.04 1391.75L1557.04 1391.75L1560.03 1391.75L1563.02 1391.75L1566.01 1391.75L1569.00 1391.75L1571.99 1391.75L1574.98 1391.75L1577.97 1391.75L1577.97 1391.75L1574.98 1391.75L1571.99 1391.75L1569.00 1391.75L1566.01 1391.75L1563.02 1391.75L1560.03 1391.75L1557.04 1391.75L1554.04 1391.75L1551.05 1391.75L1548.06 1391.75L1545.07 1391.75L1542.08 1391.75L1539.09 1391.75L1536.10 1391.75L1533.11 1391.75L1530.12 1391.75L1527.13 1391.75L1524.14 1391.75L1521.15 1391.75L1518.16 1391.75L1515.17 1391.75L1512.18 1391.75L1509.19 1391.75L1506.20 1391.75L1503.21 1391.75L1500.22 1391.75L1497.22 1391.75L1494.23 1391.75L1491.24 1391.75L1488.25 1391.75L1485.26 1391.75L1482.27 1391.75L1479.28 1391.75L1476.29 1391.75L1473.30 1391.75L1470.31 1391.75L1467.32 1391.75L1464.33 1391.75L1461.34 1391.75L1458.35 1391.75L1455.36 1391.75L1452.37 1391.75L1449.38 1391.75L1446.39 1391.75L1443.39 1391.75L1440.40 1391.75L1437.41 1391.75L1434.42 1391.75L1431.43 1391.75L1428.44 1391.75L1425.45 1391.75L1422.46 1391.75L1419.47 1391.75L1416.48 1391.75L1413.49 1391.75L1410.50 1391.75L1407.51 1391.75L1404.52 1391.75L1401.53 1391.75L1398.54 1391.75L1395.55 1391.75L1392.56 1391.75L1389.57 1391.75L1386.57 1391.75L1383.58 1391.75L1380.59 1391.75L1377.60 1391.75L1374.61 1391.75L1371.62 1391.75L1368.63 1391.75L1365.64 1391.75L1362.65 1391.75L1359.66 1391.75L1356.67 1391.75L1353.68 1391.75L1350.69 1391.75L1347.70 1391.75L1344.71 1391.75L1341.72 1391.75L1338.73 1391.75L1335.74 1391.75L1332.75 1391.75L1329.75 1391.75L1326.76 1391.75L1323.77 1391.75L1320.78 1391.75L1317.79 1391.75L1314.80 1391.75L1311.81 1391.75L1308.82 1391.75L1305.83 1391.75L1302.84 1391.75L1299.85 1391.75L1296.86 1391.75L1293.87 1391.75L1290.88 1391.75L1287.89 1391.75L1284.90 1391.75L1281.91 1391.75L1278.92 1391.75L1275.93 1391.75L1272.93 1391.75L1269.94 1391.75L1266.95 1391.75L1263.96 1391.75L1260.97 1391.75L1257.98 1391.75L1254.99 1391.75L1252.00 1391.75L1249.01 1391.75L1246.02 1391.75L1243.03 1391.75L1240.04 1388.72L1237.05 1384.62L1234.06 1380.56L1231.07 1376.54L1228.08 1372.56L1225.09 1368.63L1222.10 1364.73L1219.10 1360.86L1216.11 1357.04L1213.12 1353.25L1210.13 1349.50L1207.14 1345.79L1204.15 1342.18L1201.16 1338.60L1198.17 1335.06L1195.18 1331.55L1192.19 1328.07L1189.20 1324.63L1186.21 1321.22L1183.22 1317.84L1180.23 1314.50L1177.24 1311.19L1174.25 1307.91L1171.26 1304.66L1168.27 1301.44L1165.28 1298.25L1162.28 1295.10L1159.29 1291.97L1156.30 1288.87L1153.31 1285.80L1150.32 1282.76L1147.33 1279.75L1144.34 1276.76L1141.35 1273.81L1138.36 1270.88L1135.37 1267.98L1132.38 1265.10L1129.39 1262.25L1126.40 1259.43L1123.41 1256.64L1120.42 1253.87L1117.43 1251.12L1114.44 1248.40L1111.45 1245.71L1108.46 1243.04L1105.46 1240.39L1102.47 1237.77L1099.48 1235.17L1096.49 1232.60L1093.50 1230.04L1090.51 1227.52L1087.52 1225.01L1084.53 1222.53L1081.54 1220.07L1078.55 1217.63L1075.56 1215.21L1072.57 1212.81L1069.58 1210.44L1066.59 1208.08L1063.60 1205.75L1060.61 1203.44L1057.62 1201.14L1054.63 1198.87L1051.64 1196.62L1048.64 1194.38L1045.65 1192.17L1042.66 1189.97L1039.67 1187.80L1036.68 1185.64L1033.69 1183.50L1030.70 1181.38L1027.71 1179.27L1024.72 1177.19L1021.73 1175.12L1018.74 1173.07L1015.75 1171.04L1012.76 1169.02L1009.77 1167.02L1006.78 1165.04L1003.79 1163.07L1000.80 1161.12L997.81 1159.18L994.82 1157.27L991.82 1155.37L988.83 1153.48L985.84 1151.61L982.85 1149.76L979.86 1147.93L976.87 1146.10L973.88 1144.30L970.89 1142.51L967.90 1140.74L964.91 1138.98L961.92 1137.23L958.93 1135.50L955.94 1133.79L952.95 1132.09L949.96 1130.40L946.97 1128.73L943.98 1127.07L940.99 1125.42L937.99 1123.79L935.00 1122.17L932.01 1120.57L929.02 1118.98L926.03 1117.40L923.04 1115.83L920.05 1114.28L917.06 1112.74L914.07 1111.21L911.08 1109.70L908.09 1108.19L905.10 1106.70L902.11 1105.22L899.12 1103.75L896.13 1102.30L893.14 1100.85L890.15 1099.42L887.16 1098.00L884.17 1096.59L881.17 1095.19L878.18 1093.80L875.19 1092.42L872.20 1091.06L869.21 1089.70L866.22 1088.35L863.23 1087.02L860.24 1085.69L857.25 1084.38L854.26 1083.07L851.27 1081.78L848.28 1080.49L845.29 1079.22L842.30 1077.95L839.31 1076.69L836.32 1075.44L833.33 1074.21L830.34 1072.98L827.35 1071.76L824.35 1070.55L821.36 1069.34L818.37 1068.15L815.38 1066.97L812.39 1065.79L809.40 1064.62L806.41 1063.46L803.42 1062.31L800.43 1061.17L797.44 1060.03L794.45 1058.91L791.46 1057.79L788.47 1056.68L785.48 1055.57L782.49 1054.48L779.50 1053.39L776.51 1052.31L773.52 1051.24L770.53 1050.17L767.53 1049.11L764.54 1048.06L761.55 1047.02L758.56 1045.98L755.57 1044.95L752.58 1043.93L749.59 1042.91L746.60 1041.90L743.61 1040.90L740.62 1039.90L737.63 1038.91L734.64 1037.93L731.65 1036.95L728.66 1035.98L725.67 1035.01L722.68 1034.05L719.69 1033.10L716.70 1032.16L713.71 1031.22L710.71 1030.28L707.72 1029.35L704.73 1028.43L701.74 1027.51L698.75 1026.60L695.76 1025.69L692.77 1024.79L689.78 1023.90L686.79 1023.01L683.80 1022.12L680.81 1021.25L677.82 1020.37L674.83 1019.50L671.84 1018.64L668.85 1017.78L665.86 1016.93L662.87 1016.08L659.88 1015.24L656.88 1014.40L653.89 1013.56L650.90 1012.73L647.91 1011.91L644.92 1011.09L641.93 1010.27L638.94 1009.46L635.95 1008.66L632.96 1007.85L629.97 1007.06L626.98 1006.26L623.99 1005.47L621.00 1004.69L618.01 1003.91L615.02 1003.13L612.03 1002.36L609.04 1001.59L606.05 1000.83L603.06 1000.07L600.06 999.31L597.07 998.56L594.08 997.81L591.09 997.06L588.10 996.32L585.11 995.59L582.12 994.85L579.13 994.12L576.14 993.40L573.15 992.67L570.16 991.95L567.17 991.24L564.18 990.53L561.19 989.82L558.20 989.11L555.21 988.41L552.22 987.71L549.23 987.01L546.24 986.32L543.24 985.63L540.25 984.94L537.26 984.26L534.27 983.58L531.28 982.90L528.29 982.23L525.30 981.56L522.31 980.89L519.32 980.23L516.33 979.56L513.34 978.90L510.35 978.25L507.36 977.59L504.37 976.94L501.38 976.29L498.39 975.65L495.40 975.00L492.41 974.36L489.42 973.73L486.42 973.09L483.43 972.46L480.44 971.83L477.45 971.20L474.46 970.58L471.47 969.95L468.48 969.33L465.49 968.71L462.50 968.10L459.51 967.49L456.52 966.87L453.53 966.27L450.54 965.66L447.55 965.06L444.56 964.45L441.57 963.85L438.58 963.26L435.59 962.66L432.60 962.07L429.60 961.48L426.61 960.89L423.62 960.30L420.63 959.72L417.64 959.13L414.65 958.55L411.66 957.97L408.67 957.40L405.68 956.82L402.69 956.25L399.70 955.68L396.71 955.11L393.72 954.54L390.73 953.97L387.74 953.41L384.75 952.85L381.76 952.28L378.77 951.73L375.77 951.17L372.78 950.61L369.79 950.06L366.80 949.51L363.81 948.96L360.82 948.41L357.83 947.86L354.84 947.32L351.85 946.77L348.86 946.23L345.87 945.69L342.88 945.15L339.89 944.61L336.90 944.07L333.91 943.54L330.92 943.01L327.93 942.47L324.94 941.94L321.95 941.41L318.95 940.89L315.96 940.36L312.97 939.83L309.98 939.31L306.99 938.79L304.00 938.27L301.01 937.75L298.02 937.23L295.03 936.71L292.04 936.19L289.05 935.68L286.06 935.17L283.07 934.65L280.08 934.14L277.09 933.63L274.10 933.12L271.11 932.62L268.12 932.11L265.13 931.61L262.13 931.10L259.14 930.60L256.15 930.10L253.16 929.60L250.17 929.10L247.18 928.60L244.19 928.10L241.20 927.60L238.21 927.11L235.22 926.61L232.23 926.12L229.24 925.63L226.25 925.14L223.26 924.65L220.27 924.16L217.28 923.67L214.29 923.18L211.30 922.69L208.31 922.21L205.31 921.72L202.32 921.24L199.33 920.76L196.34 920.27L193.35 919.79L190.36 919.31L187.37 918.83L184.38 918.35L181.39 917.88L178.40 917.40L175.41 916.92L172.42 916.45L169.43 915.97L166.44 915.50L163.45 915.03L160.46 914.55L157.47 914.08L154.48 913.61L151.49 913.14L148.49 912.67L145.50 912.20L142.51 911.74L139.52 911.27L136.53 910.80L133.54 910.34L130.55 909.87L127.56 909.41L124.57 908.95L121.58 908.48L118.59 908.02L115.60 907.56L112.61 907.10L109.62 906.64L106.63 906.18L103.64 905.72L100.65 905.26L97.66 904.80L94.66 904.35L91.67 903.89L88.68 903.43L85.69 902.98z" fill="#9864A8" fill-opacity="0.24"/>
<path d="M85.69 900.66L88.68 901.10L91.67 901.55L94.66 902.00L97.66 902.44L100.65 902.89L103.64 903.34L106.63 903.79L109.62 904.24L112.61 904.69L115.60 905.14L118.59 905.59L121.58 906.04L124.57 906.49L127.56 906.94L130.55 907.39L133.54 907.84L136.53 908.30L139.52 908.75L142.51 909.20L145.50 909.66L148.49 910.11L151.49 910.57L154.48 911.02L157.47 911.48L160.46 911.93L163.45 912.39L166.44 912.85L169.43 913.31L172.42 913.76L175.41 914.22L178.40 914.68L181.39 915.14L184.38 915.60L187.37 916.06L190.36 916.53L193.35 916.99L196.34 917.45L199.33 917.91L202.32 918.38L205.31 918.84L208.31 919.31L211.30 919.77L214.29 920.24L217.28 920.71L220.27 921.17L223.26 921.64L226.25 922.11L229.24 922.58L232.23 923.05L235.22 923.52L238.21 923.99L241.20 924.46L244.19 924.93L247.18 925.41L250.17 925.88L253.16 926.36L256.15 926.83L259.14 927.31L262.13 927.78L265.13 928.26L268.12 928.74L271.11 929.22L274.10 929.70L277.09 930.18L280.08 930.66L283.07 931.14L286.06 931.62L289.05 932.11L292.04 932.59L295.03 933.08L298.02 933.56L301.01 934.05L304.00 934.53L306.99 935.02L309.98 935.51L312.97 936.00L315.96 936.49L318.95 936.98L321.95 937.48L324.94 937.97L327.93 938.46L330.92 938.96L333.91 939.46L336.90 939.95L339.89 940.45L342.88 940.95L345.87 941.45L348.86 941.95L351.85 942.45L354.84 942.95L357.83 943.46L360.82 943.96L363.81 944.47L366.80 944.98L369.79 945.48L372.78 945.99L375.77 946.50L378.77 947.01L381.76 947.53L384.75 948.04L387.74 948.55L390.73 949.07L393.72 949.59L396.71 950.10L399.70 950.62L402.69 951.14L405.68 951.67L408.67 952.19L411.66 952.71L414.65 953.24L417.64 953.76L420.63 954.29L423.62 954.82L426.61 955.35L429.60 955.88L432.60 956.41L435.59 956.95L438.58 957.48L441.57 958.02L444.56 958.56L447.55 959.10L450.54 959.64L453.53 960.18L456.52 960.73L459.51 961.27L462.50 961.82L465.49 962.37L468.48 962.92L471.47 963.47L474.46 964.02L477.45 964.58L480.44 965.13L483.43 965.69L486.42 966.25L489.42 966.81L492.41 967.37L495.40 967.94L498.39 968.50L501.38 969.07L504.37 969.64L507.36 970.21L510.35 970.78L513.34 971.36L516.33 971.94L519.32 972.51L522.31 973.09L525.30 973.68L528.29 974.26L531.28 974.85L534.27 975.43L537.26 976.02L540.25 976.62L543.24 977.21L546.24 977.80L549.23 978.40L552.22 979.00L555.21 979.60L558.20 980.21L561.19 980.81L564.18 981.42L567.17 982.03L570.16 982.64L573.15 983.26L576.14 983.88L579.13 984.50L582.12 985.12L585.11 985.74L588.10 986.37L591.09 987.00L594.08 987.63L597.07 988.26L600.06 988.90L603.06 989.53L606.05 990.17L609.04 990.82L612.03 991.46L615.02 992.11L618.01 992.76L621.00 993.42L623.99 994.07L626.98 994.73L629.97 995.39L632.96 996.06L635.95 996.73L638.94 997.40L641.93 998.07L644.92 998.75L647.91 999.42L650.90 1000.11L653.89 1000.79L656.88 1001.48L659.88 1002.17L662.87 1002.86L665.86 1003.56L668.85 1004.26L671.84 1004.97L674.83 1005.67L677.82 1006.38L680.81 1007.09L683.80 1007.81L686.79 1008.53L689.78 1009.25L692.77 1009.98L695.76 1010.71L698.75 1011.45L701.74 1012.18L704.73 1012.92L707.72 1013.67L710.71 1014.42L713.71 1015.17L716.70 1015.92L719.69 1016.68L722.68 1017.45L725.67 1018.22L728.66 1018.99L731.65 1019.76L734.64 1020.54L737.63 1021.32L740.62 1022.11L743.61 1022.90L746.60 1023.70L749.59 1024.50L752.58 1025.30L755.57 1026.11L758.56 1026.93L761.55 1027.74L764.54 1028.56L767.53 1029.39L770.53 1030.22L773.52 1031.06L776.51 1031.90L779.50 1032.74L782.49 1033.59L785.48 1034.45L788.47 1035.31L791.46 1036.17L794.45 1037.04L797.44 1037.92L800.43 1038.80L803.42 1039.68L806.41 1040.57L809.40 1041.47L812.39 1042.37L815.38 1043.28L818.37 1044.19L821.36 1045.10L824.35 1046.03L827.35 1046.96L830.34 1047.89L833.33 1048.83L836.32 1049.78L839.31 1050.73L842.30 1051.69L845.29 1052.65L848.28 1053.62L851.27 1054.60L854.26 1055.58L857.25 1056.57L860.24 1057.56L863.23 1058.56L866.22 1059.57L869.21 1060.59L872.20 1061.61L875.19 1062.64L878.18 1063.67L881.17 1064.71L884.17 1065.76L887.16 1066.82L890.15 1067.88L893.14 1068.95L896.13 1070.03L899.12 1071.11L902.11 1072.20L905.10 1073.30L908.09 1074.41L911.08 1075.53L914.07 1076.65L917.06 1077.78L920.05 1078.92L923.04 1080.06L926.03 1081.22L929.02 1082.38L932.01 1083.55L935.00 1084.73L937.99 1085.92L940.99 1087.12L943.98 1088.32L946.97 1089.54L949.96 1090.76L952.95 1091.99L955.94 1093.23L958.93 1094.48L961.92 1095.74L964.91 1097.01L967.90 1098.29L970.89 1099.58L973.88 1100.88L976.87 1102.19L979.86 1103.50L982.85 1104.83L985.84 1106.17L988.83 1107.52L991.82 1108.87L994.82 1110.24L997.81 1111.62L1000.80 1113.01L1003.79 1114.41L1006.78 1115.83L1009.77 1117.25L1012.76 1118.68L1015.75 1120.13L1018.74 1121.58L1021.73 1123.05L1024.72 1124.53L1027.71 1126.02L1030.70 1127.53L1033.69 1129.04L1036.68 1130.57L1039.67 1132.11L1042.66 1133.67L1045.65 1135.23L1048.64 1136.81L1051.64 1138.40L1054.63 1140.01L1057.62 1141.62L1060.61 1143.25L1063.60 1144.90L1066.59 1146.56L1069.58 1148.23L1072.57 1149.91L1075.56 1151.61L1078.55 1153.33L1081.54 1155.06L1084.53 1156.80L1087.52 1158.56L1090.51 1160.33L1093.50 1162.12L1096.49 1163.92L1099.48 1165.74L1102.47 1167.57L1105.46 1169.42L1108.46 1171.28L1111.45 1173.16L1114.44 1175.06L1117.43 1176.96L1120.42 1178.89L1123.41 1180.83L1126.40 1182.78L1129.39 1184.75L1132.38 1186.74L1135.37 1188.75L1138.36 1190.77L1141.35 1192.81L1144.34 1194.86L1147.33 1196.93L1150.32 1199.02L1153.31 1201.13L1156.30 1203.26L1159.29 1205.40L1162.28 1207.56L1165.28 1209.74L1168.27 1211.94L1171.26 1214.16L1174.25 1216.39L1177.24 1218.65L1180.23 1220.93L1183.22 1223.22L1186.21 1225.54L1189.20 1227.87L1192.19 1230.23L1195.18 1232.61L1198.17 1235.01L1201.16 1237.43L1204.15 1239.87L1207.14 1242.33L1210.13 1244.82L1213.12 1247.32L1216.11 1249.85L1219.10 1252.41L1222.10 1254.98L1225.09 1257.58L1228.08 1260.21L1231.07 1262.85L1234.06 1265.52L1237.05 1268.22L1240.04 1270.94L1243.03 1273.68L1246.02 1276.45L1249.01 1279.25L1252.00 1282.07L1254.99 1284.92L1257.98 1287.79L1260.97 1290.70L1263.96 1293.62L1266.95 1296.58L1269.94 1299.56L1272.93 1302.57L1275.93 1305.61L1278.92 1308.68L1281.91 1311.78L1284.90 1314.91L1287.89 1318.06L1290.88 1321.25L1293.87 1324.47L1296.86 1327.72L1299.85 1331.00L1302.84 1334.31L1305.83 1337.65L1308.82 1341.02L1311.81 1344.43L1314.80 1347.92L1317.79 1351.47L1320.78 1355.06L1323.77 1358.68L1326.76 1362.34L1329.75 1366.03L1332.75 1369.76L1335.74 1373.53L1338.73 1377.33L1341.72 1381.18L1344.71 1385.06L1347.70 1388.98" fill="none" stroke="#9864A8" stroke-opacity="0.93" stroke-width="3.55" stroke-linejoin="round"/>
</g>
<g stroke="#000" stroke-width="2.04" fill="none" stroke-linecap="round">
<path d="M128.3 802.30V1272.05M128.3 802.30h-16.8M128.3 830.58h-16.8M128.3 896.25h-16.8M128.3 990.20h-16.8M128.3 1084.15h-16.8M128.3 1178.10h-16.8M128.3 1272.05h-16.8"/>
<path d="M182.60 1311.75H1543.96M182.60 1311.75v16.8M619.88 1311.75v16.8M808.20 1311.75v16.8M996.52 1311.75v16.8M1106.69 1311.75v16.8M1184.85 1311.75v16.8M1245.48 1311.75v16.8M1295.01 1311.75v16.8M1336.89 1311.75v16.8M1373.17 1311.75v16.8M1405.17 1311.75v16.8M1433.80 1311.75v16.8M1459.70 1311.75v16.8M1483.34 1311.75v16.8M1505.08 1311.75v16.8M1525.22 1311.75v16.8M1543.96 1311.75v16.8"/>
</g>
<g transform="translate(182.60 1372.50)"><text text-anchor="middle">1</text><g fill="#fff"><rect x="-6.86" y="-3.04" width="6.00" height="4.98"/><rect x="1.80" y="-3.04" width="6.00" height="4.98"/></g></g>
<g transform="translate(619.88 1372.50)"><text text-anchor="middle">5</text></g>
<g transform="translate(808.20 1372.50)"><text text-anchor="middle">10</text><g fill="#fff"><rect x="-14.55" y="-3.04" width="6.00" height="4.98"/><rect x="-5.89" y="-3.04" width="6.00" height="4.98"/></g></g>
<g transform="translate(996.52 1372.50)"><text text-anchor="middle">20</text></g>
<g transform="translate(1106.69 1372.50)"><text text-anchor="middle">30</text></g>
<g transform="translate(1184.85 1372.50)"><text text-anchor="middle">40</text></g>
<g transform="translate(1245.48 1372.50)"><text text-anchor="middle">50</text></g>
<g transform="translate(1336.89 1372.50)"><text text-anchor="middle">70</text></g>
<g transform="translate(1405.17 1372.50)"><text text-anchor="middle">90</text></g>
<g transform="translate(1483.34 1372.50)"><text text-anchor="middle">120</text><g fill="#fff"><rect x="-22.25" y="-3.04" width="6.00" height="4.98"/><rect x="-13.59" y="-3.04" width="6.00" height="4.98"/></g></g>
<g transform="translate(87.80 830.58) rotate(-90)"><text text-anchor="middle">0.5</text></g>
<g transform="translate(87.80 896.25) rotate(-90)"><text text-anchor="middle">0.1</text><g fill="#fff"><rect x="4.68" y="-3.04" width="6.00" height="4.98"/><rect x="13.34" y="-3.04" width="6.00" height="4.98"/></g></g>
<g transform="translate(87.80 990.20) rotate(-90)"><text text-anchor="middle">0.01</text><g fill="#fff"><rect x="12.37" y="-3.04" width="6.00" height="4.98"/><rect x="21.03" y="-3.04" width="6.00" height="4.98"/></g></g>
<g transform="translate(87.80 1084.15) rotate(-90)"><text text-anchor="middle">0.001</text><g fill="#fff"><rect x="20.06" y="-3.04" width="6.00" height="4.98"/><rect x="28.72" y="-3.04" width="6.00" height="4.98"/></g></g>
<g transform="translate(87.80 1272.05) rotate(-90)"><text text-anchor="middle">1e−05</text><g fill="#fff"><rect x="-38.02" y="-3.04" width="6.00" height="4.98"/><rect x="-29.36" y="-3.04" width="6.00" height="4.98"/></g></g>
<text x="860.25" y="1436.2" text-anchor="middle">Individual Reproductive Number, <tspan font-family="'Liberation Serif', 'DejaVu Serif', serif" font-size="29.1px">ν</tspan></text>
<text transform="translate(23.9 1041.80) rotate(-90)" text-anchor="middle">Density</text>
<g fill="none" stroke-width="3.55" stroke-linecap="round" stroke-opacity="0.93"><path d="M1431 816H1480.6" stroke="#B10830"/><path d="M1431 849.5H1480.6" stroke="#9864A8"/></g>
<text x="1506.3" y="825.8">Urban</text><text x="1506.3" y="859.6">Rural</text>
<rect x="1394.3" y="935.25" width="20.6" height="16.4" fill="#BEBEBE" stroke="#000" stroke-width="1.75" stroke-linejoin="round"/>
<text x="1440.5" y="936.6">Uncertainty</text><text x="1440.5" y="969.6">Interval</text>
<text x="100" y="764.65" font-size="38.74px">B)</text>
</svg>
</body></html>
